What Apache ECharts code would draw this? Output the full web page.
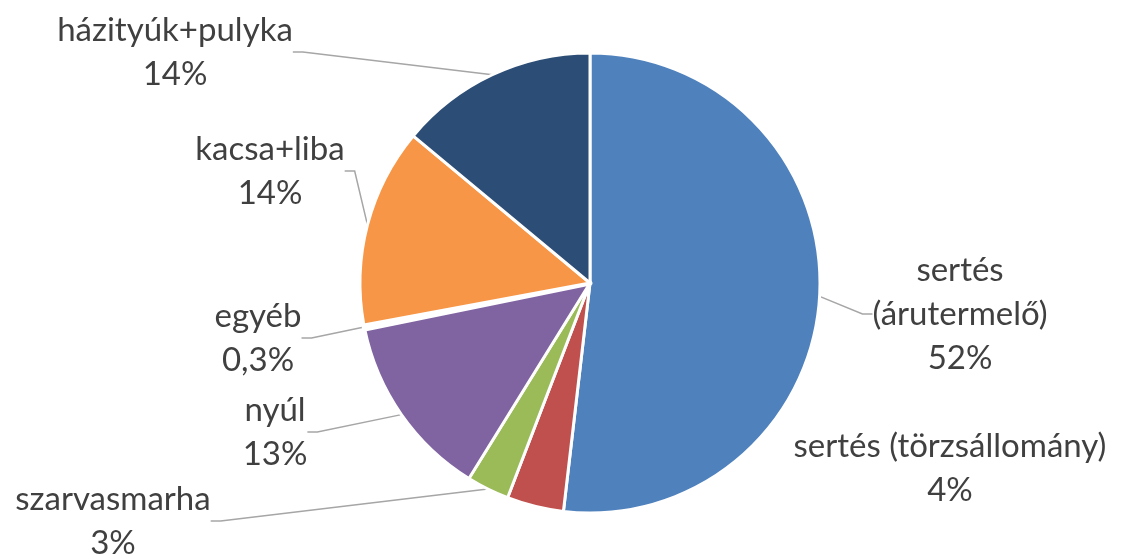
<!DOCTYPE html>
<html>
<head>
<meta charset="utf-8">
<script src="https://cdn.jsdelivr.net/npm/echarts@6/dist/echarts.min.js"></script>
<style>
  html, body { margin: 0; padding: 0; background: #fff; }
  #chart { width: 1122px; height: 559px; }
</style>
</head>
<body>
<div id="chart"></div>
<script>
const categories = ['sertés (árutermelő)', 'sertés (törzsállomány)', 'szarvasmarha', 'nyúl', 'egyéb', 'kacsa+liba', 'házityúk+pulyka']
const label_names = ['sertés\n(árutermelő)', 'sertés (törzsállomány)', 'szarvasmarha', 'nyúl', 'egyéb', 'kacsa+liba', 'házityúk+pulyka']
const values = [52, 4, 3, 13, 0.3, 14, 14]
const colors = ['#4f81bd', '#c0504d', '#9bbb59', '#8064a2', '#4bacc6', '#f79646', '#2c4d75']
// label block centres (x, y) in px
const label_pos = [[960, 314], [950, 468], [113, 521], [275, 432], [258, 338], [270, 171], [175, 52]]

function fmt_pct(v) {
    if (v < 1) return String(v).replace('.', ',') + '%'
    return Math.round(v) + '%'
}

const chart = echarts.init(document.getElementById('chart'))

const data = categories.map((name, i) => {
    const item = {
        name: name,
        value: values[i],
        itemStyle: { color: colors[i] }
    }
    if (i === 1) item.labelLine = { show: false }
    if (i === 4) item.itemStyle.borderWidth = 5
    return item
})

chart.setOption({
    animation: false,
    series: [{
        type: 'pie',
        center: [590, 283],
        radius: 230,
        startAngle: 90,
        clockwise: true,
        data: data,
        itemStyle: { borderColor: '#fff', borderWidth: 3 },
        label: {
            show: true,
            position: 'outside',
            color: '#404040',
            fontFamily: 'Lato',
            fontSize: 33,
            lineHeight: 44,
            align: 'center',
            formatter: p => label_names[p.dataIndex] + '\n' + fmt_pct(p.value)
        },
        labelLine: {
            show: true,
            length: 15,
            length2: 10,
            lineStyle: { color: '#a6a6a6', width: 1.5 }
        },
        labelLayout: function (p) {
            const pos = label_pos[p.dataIndex]
            return {
                x: pos[0],
                y: pos[1],
                align: 'center',
                verticalAlign: 'middle'
            }
        },
        emphasis: { disabled: true }
    }]
})
</script>
</body>
</html>
